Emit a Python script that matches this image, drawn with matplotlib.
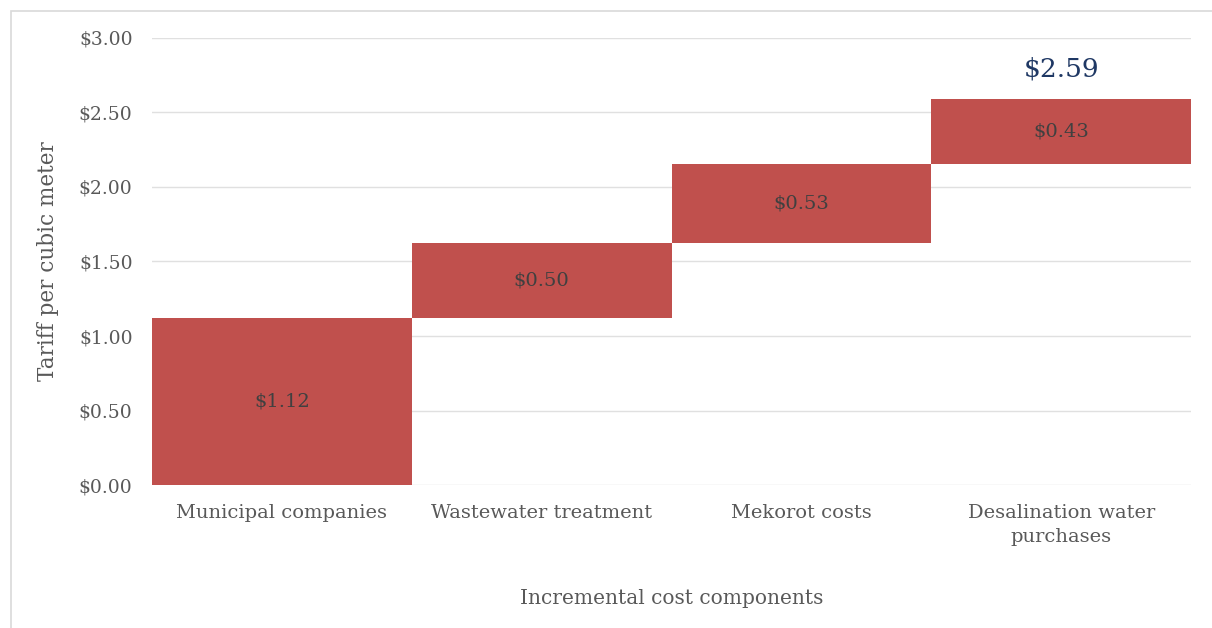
import matplotlib.pyplot as plt
from matplotlib.patches import Rectangle
import numpy as np

# incremental cost components (USD per cubic meter)
categories = ["Municipal companies", "Wastewater treatment", "Mekorot costs",
              "Desalination water\npurchases"]
increments = [1.121, 0.503, 0.531, 0.434]
yticks = [0.0, 0.5, 1.0, 1.5, 2.0, 2.5, 3.0]

plt.rcParams['font.family'] = ['DejaVu Serif']

starts = np.concatenate([[0], np.cumsum(increments)[:-1]])
total = sum(increments)

fig = plt.figure(figsize=(12.12, 6.28), dpi=100)
ax = fig.add_axes([0.1254, 0.2277, 0.8573, 0.7118])

# outer frame like the source chart
fig.patches.append(Rectangle((11 / 1212, -0.1), 1.2, 1 - 11 / 628 + 0.1,
                             transform=fig.transFigure, fill=False,
                             edgecolor="#d9d9d9", linewidth=1.2))

x = np.arange(len(categories))
ax.bar(x, increments, bottom=starts, width=1.0, color="#c0504d", zorder=3)

for xi, s, v in zip(x, starts, increments):
    ax.text(xi, s + v / 2, "${:.2f}".format(v), ha="center", va="center",
            fontsize=14, color="#404040", zorder=4)

ax.annotate("${:.2f}".format(total), (x[-1], total), xytext=(0, 22),
            textcoords="offset points", ha="center", va="center",
            fontsize=19, color="#1f3864")

ax.set_xlim(-0.5, len(categories) - 0.5)
ax.set_ylim(0, 3)
ax.set_yticks(yticks)
ax.set_yticklabels(["${:.2f}".format(t) for t in yticks])
ax.set_xticks(x)
ax.set_xticklabels(categories, linespacing=1.4)
ax.tick_params(axis="both", length=0, labelsize=14, labelcolor="#595959")
ax.tick_params(axis="y", labelsize=13.5, pad=14)
ax.tick_params(axis="x", pad=14)
ax.grid(axis="y", color="#e0e0e0", linewidth=1.0, zorder=0)
for sp in ax.spines.values():
    sp.set_visible(False)

ax.set_ylabel("Tariff per cubic meter", fontsize=15.5, color="#595959", labelpad=14)
ax.set_xlabel("Incremental cost components", fontsize=14.5, color="#595959", labelpad=31)

fig.savefig("out.png", dpi=100)
